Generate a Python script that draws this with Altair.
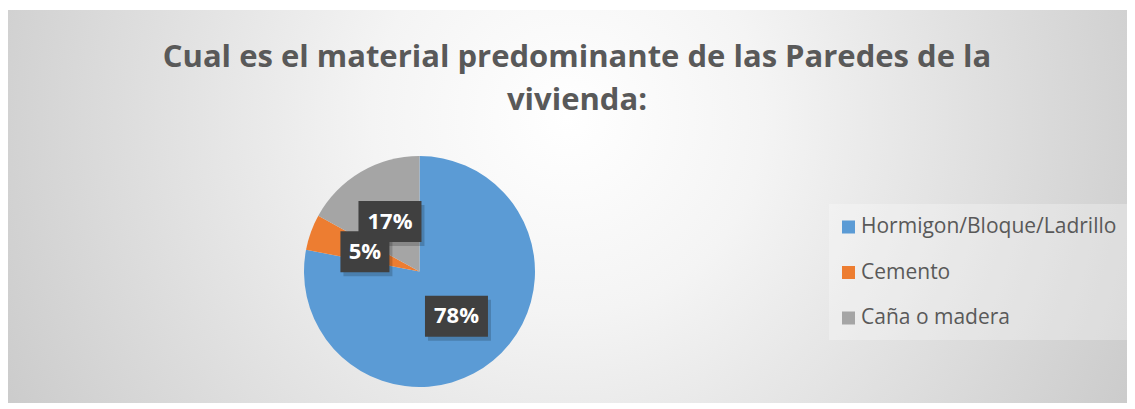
import altair as alt
import pandas as pd

# ---- data ----
categories = ["Hormigon/Bloque/Ladrillo", "Cemento", "Caña o madera"]
values = [78, 5, 17]
labels = ["78%", "5%", "17%"]
colors = ["#5B9BD5", "#ED7D31", "#A5A5A5"]
title_lines = ["Cual es el material predominante de las Paredes de la", "vivienda:"]

# ---- layout (pixels, plot-area coordinates) ----
W, H = 1119, 393
CX, CY, R, LR = 411.5, 261.5, 115.5, 58
FONT = "Open Sans"

df = pd.DataFrame({
    "category": categories,
    "value": values,
    "label": labels,
    "order": list(range(len(categories))),
})
one = pd.DataFrame({"a": [0]})

bg_fill = alt.RadialGradient(
    gradient="radial",
    x1=0.5, y1=0.42, r1=0,
    x2=0.5, y2=0.42, r2=0.7,
    stops=[
        alt.GradientStop(color="#ffffff", offset=0),
        alt.GradientStop(color="#f4f4f4", offset=0.25),
        alt.GradientStop(color="#bdbdbd", offset=1),
    ],
)

background = alt.Chart(one).mark_rect(fill=bg_fill).encode(
    x=alt.value(0), x2=alt.value(W), y=alt.value(0), y2=alt.value(H)
)

title = alt.Chart(one).mark_text(
    font=FONT, fontSize=31, fontWeight="bold", color="#595959",
    align="center", baseline="middle", lineHeight=43,
).encode(x=alt.value(569), y=alt.value(48), text=alt.value(title_lines))

legend_box = alt.Chart(one).mark_rect(fill="white", fillOpacity=0.28).encode(
    x=alt.value(821), x2=alt.value(1120), y=alt.value(194), y2=alt.value(330)
)

color_scale = alt.Scale(domain=categories, range=colors)

pie = alt.Chart(df).mark_arc(radius=R).encode(
    theta=alt.Theta("value:Q", stack=True),
    color=alt.Color(
        "category:N", scale=color_scale, sort=categories,
        legend=alt.Legend(
            title=None, orient="none", legendX=830, legendY=206.5,
            symbolType="square", symbolSize=169, symbolStrokeWidth=0,
            labelFont=FONT, labelFontSize=21, labelColor="#595959",
            labelOffset=2, rowPadding=23.5, padding=0, labelLimit=400,
        ),
    ),
    order=alt.Order("order:Q"),
    x=alt.value(CX),
    y=alt.value(CY),
)

lab = (
    alt.Chart(df)
    .transform_window(cum="sum(value)", sort=[alt.SortField("order")], frame=[None, 0])
    .transform_joinaggregate(total="sum(value)")
    .transform_calculate(mid="(datum.cum - datum.value/2)/datum.total")
    .transform_calculate(
        lx=f"{CX} + {LR}*sin(2*PI*datum.mid)",
        ly=f"{CY} - {LR}*cos(2*PI*datum.mid)",
        bw="21 + 14*length(datum.label)",
    )
    .transform_calculate(
        x1="datum.lx - datum.bw/2", x2="datum.lx + datum.bw/2",
        y1="datum.ly - 20.5", y2="datum.ly + 20.5",
        sx1="datum.lx - datum.bw/2 + 3", sx2="datum.lx + datum.bw/2 + 3",
        sy1="datum.ly - 20.5 + 4", sy2="datum.ly + 20.5 + 4",
    )
)

shadow = lab.mark_rect(color="#000000", opacity=0.18).encode(
    x=alt.X("sx1:Q", scale=None, axis=None), x2="sx2:Q",
    y=alt.Y("sy1:Q", scale=None, axis=None), y2="sy2:Q",
)
boxes = lab.mark_rect(color="#404040").encode(
    x=alt.X("x1:Q", scale=None, axis=None), x2="x2:Q",
    y=alt.Y("y1:Q", scale=None, axis=None), y2="y2:Q",
)
texts = lab.mark_text(
    font=FONT, fontSize=22, fontWeight="bold", color="white",
    align="center", baseline="middle",
).encode(
    x=alt.X("lx:Q", scale=None, axis=None),
    y=alt.Y("ly:Q", scale=None, axis=None),
    text="label:N",
)

chart = (
    alt.layer(background, title, legend_box, pie, shadow, boxes, texts)
    .properties(
        width=W, height=H, autosize="none",
        padding={"top": 2, "left": 0, "right": 0, "bottom": 0},
    )
    .configure_view(stroke=None)
)

chart.save("out.html", embed_options={"renderer": "svg", "actions": False})
